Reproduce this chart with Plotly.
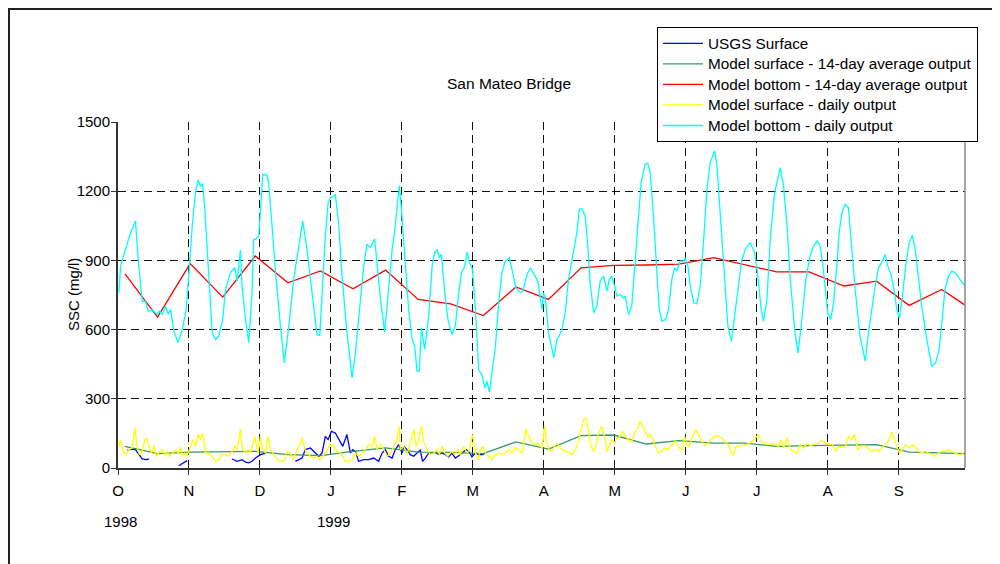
import plotly.graph_objects as go

# ---------------- data (day index from 1 Oct 1998, SSC in mg/l) ----------------
month_labels = ["O", "N", "D", "J", "F", "M", "A", "M", "J", "J", "A", "S"]
year_labels = ["1998", "1999"]
year_label_month = [0, 3]
series_names = ["USGS Surface",
                "Model surface - 14-day average output",
                "Model bottom - 14-day average output",
                "Model surface - daily output",
                "Model bottom - daily output"]

# USGS Surface (segments separated by None gaps)
usgs_day = [4.0, 6.1, 7.5, 8.9, 10.4, 12.1, 13.2, None,
            26.1, 28.3, 29.7, None,
            49, 51.2, 53.3, 54.8, 56.2, 57.6, 59.1, 61.2, 63.4, None,
            76.2, 79.1, 80.5, 82.7, 84.8, 86.3, 87.7, 89.1, 90.3, 91.7, 93.4, 94.9, 96.6, 98.4,
            99.9, 100.9, 102, 103.4, 105.6, 107.7, 109.9, 112, 113.5, 114.9, 116.3, 117.8, 119.2,
            120.6, 122.1, 122.8, 124.2, 125.6, 127.1, 128.5, 129.9, 130.9, 132.1, 133.5, 135,
            136.4, 137.8, 139.2, 140.7, 142.1, 143.5, 145, 146.4, 147.8, 149.6, 151, 152.1,
            153.6, 155, 156.7, 157.9]
usgs_val = [77, 82, 80, 58, 39, 36, 39, None,
            10, 22, 32, None,
            39, 29, 36, 25, 22, 29, 43, 58, 65, None,
            29, 43, 80, 87, 65, 51, 65, 137, 123, 159, 152, 123, 94, 145,
            65, 80, 72, 29, 36, 36, 43, 29, 65, 80, 51, 43, 80,
            101, 65, 94, 80, 58, 51, 65, 77, 29, 43, 65, 65,
            68, 58, 65, 58, 48, 65, 43, 53, 65, 80, 68, 48,
            65, 58, 58, 65]

# Model 14-day averages
avg_day = [3, 17, 31, 45, 59, 73, 87, 101, 115, 129, 143, 157, 171, 185, 199, 213,
           227, 241, 256, 269, 283, 297, 312, 326, 340, 354, 364]
surf_avg = [94, 62, 69, 69, 72, 58, 54, 72, 87, 69, 68, 62, 113, 82, 140, 143,
            104, 119, 108, 108, 94, 97, 100, 101, 69, 65, 62]
bot_avg = [842, 654, 886, 741, 919, 803, 854, 777, 858, 731, 712, 661, 785, 731, 868, 878,
           880, 884, 912, 883, 850, 850, 789, 810, 705, 774, 706]

# Model surface - daily output
surf_day = [0.4, 1.1, 2.5, 3.5, 4.7, 6.1, 7.2, 8.2, 9.2, 10.4, 11.5, 12.5, 13.2, 14.4, 15.4,
            16.4, 17.5, 19, 20.1, 21.1, 22.1, 23.3, 24.7, 26.1, 26.9, 27.6, 28.7, 29.7, 30.7,
            32.1, 33.3, 34.4, 35.4, 36.4, 37.6, 39, 40.5, 41.9, 43.3, 44.7, 46.2, 47.6, 49,
            50.2, 51.2, 52.6, 53.6, 54.8, 55.9, 56.9, 57.9, 58.8,
            60.2, 61.2, 62.2, 63.4, 64.5, 65.5, 66.9, 68.4, 69.8, 71.2, 72.7, 74.1, 75.1, 76.2,
            77.7, 79.1, 80.3, 81.3, 82.7, 84.1, 85.5, 87, 88.4, 89.8, 91.3, 92.7, 94.1, 95.6,
            96.6, 97.7, 99.2, 100.6, 102, 103.5, 104.9, 106.3, 107.7, 109.2, 110.3, 111.3,
            112.8, 114.2, 115.6, 117.1, 118.5, 119.9, 120.9,
            121.3, 122.8, 124.2, 125.6, 127.1, 128.1, 129.2, 130.4, 131.4, 132.8, 134.2, 135.7,
            137.1, 138.1, 139.2, 140.4, 141.8, 143.3, 144.7, 146.1, 147.1, 148.6, 150, 151,
            152.4, 153.6, 154.7, 155.7, 156.7, 157.9, 159.3, 160.7, 162.2, 163.6, 165, 166.5,
            167.9, 169.3, 170.7, 172.2, 173.6, 175.3, 176.5, 177.9, 179.3,
            180.4, 181.4, 182.4, 183.3, 184.3, 185.3, 186.5, 187.6, 188.6, 189.6, 190.8, 192.2,
            193.6, 195, 196.2, 197.2, 198.6, 200.1, 201.1, 202.2, 203.4, 204.4, 205.4, 206.5,
            208, 209.1, 210.1, 211.1, 212.2, 213.4, 214.4, 215.8, 216.8, 218, 219.4, 220.8,
            222, 223.4, 224.4, 225.4, 226.6, 227.7, 228.7, 229.7, 230.8, 232.3, 233.4, 234.9,
            236.6, 238, 239.4,
            241.2, 242.4, 243.5, 244.5, 245.5, 246.7, 248.1, 249.2, 250.7, 252.4, 253.8, 255.3,
            256.7, 258.1, 259.5, 261, 262.4, 263.5, 264.6, 265.6, 266.7, 268.1, 269.9, 271.7,
            273.6, 275, 276.4, 277.9, 279.3, 281, 282.5, 283.9, 285, 286, 287.5, 288.9, 290.3,
            291.8, 293.2, 294.6, 296.1, 297.5, 298.9, 300.4, 301.8,
            302.5, 303.9, 305.3, 307, 308.2, 309.6, 311.1, 312.5, 313.9, 315.1, 316.5, 317.9,
            319.4, 320.8, 322.2, 323.9, 325.4, 326.8, 328.2, 329.7, 331.1, 332.5, 333.7, 334.7,
            335.8, 337.1, 338.5, 340, 341.4, 342.6, 344, 345.4, 346.9, 348.3, 349.7, 351.1,
            352.6, 354, 355.4, 356.9, 358.3, 359.7, 361.2, 362.6, 363.6]
surf_val = [94, 123, 65, 58, 80, 87, 174, 94, 58, 72, 123, 130, 94, 65, 97,
            51, 65, 80, 58, 72, 51, 65, 77, 65, 91, 51, 65, 51, 82,
            123, 94, 145, 123, 152, 65, 65, 51, 29, 36, 58, 58, 51, 72,
            94, 80, 169, 80, 65, 80, 65, 101, 137,
            65, 137, 80, 65, 137, 80, 58, 36, 29, 29, 72, 65, 36, 58,
            94, 130, 80, 65, 51, 43, 51, 36, 58, 80, 101, 94, 72, 65,
            51, 29, 29, 36, 65, 51, 65, 80, 101, 94, 137, 80,
            101, 80, 51, 65, 94, 123, 181,
            80, 94, 58, 109, 166, 94, 123, 181, 109, 80, 58, 65,
            80, 58, 94, 65, 51, 72, 58, 80, 58, 94, 65, 80,
            145, 65, 36, 80, 94, 65, 51, 36, 58, 65, 58, 65,
            80, 65, 87, 80, 65, 169, 137, 109, 101,
            109, 94, 87, 184, 109, 80, 72, 94, 106, 94, 80, 72,
            68, 58, 72, 94, 152, 210, 217, 152, 94, 72, 94, 152,
            181, 137, 72, 94, 123, 109, 130, 137, 159, 137, 123, 116,
            152, 174, 203, 181, 159, 137, 145, 130, 94, 65, 72, 87,
            80, 101, 116,
            87, 80, 137, 101, 94, 130, 166, 152, 116, 97, 111, 130,
            140, 137, 130, 109, 101, 65, 58, 94, 94, 97, 101, 109,
            123, 145, 116, 109, 101, 106, 101, 94, 123, 87, 130, 80, 72,
            65, 101, 87, 106, 97, 101, 106, 116,
            119, 109, 101, 101, 72, 94, 94, 87, 137, 123, 145, 80,
            94, 97, 87, 72, 80, 72, 87, 101, 116, 155, 123, 101,
            65, 80, 101, 87, 101, 94, 72, 65, 72, 65, 58, 51,
            65, 72, 72, 80, 72, 65, 58, 58, 72]

# Model bottom - daily output
bot_day = [0.4, 1.1, 3.2, 5.4, 7.5, 8.7, 10.4, 11.8, 13, 14.7, 16.8, 17.8, 19, 20.4, 21.6,
           22.6, 24, 25.8, 27.6, 29.3, 30.4, 31.9, 33.3, 34.4, 35.4, 36.4, 37.3, 38.7, 40.5,
           41.9, 43.3, 45, 46.2, 48.3, 50.2, 51.2, 52.6, 53.3, 54.8, 56.2, 57.6, 58.3,
           59.1, 60.5, 61.2, 62.2, 64.1, 64.8, 66.2, 67.6, 69.8, 71.5, 73.4, 75.5, 77.7, 79.4,
           81.2, 83.4, 85.5, 86.7, 87.7, 89.1, 90.3, 91.3, 92.7, 93.4, 94.9, 96.3, 98.4, 100.6,
           102, 104.2, 105.6, 107, 108.5, 110.3, 111.3, 112.8, 114.6, 116, 117.8, 118.9,
           120.9, 121.8, 123.5, 124.9, 126.4, 127.5, 128.5, 129.5, 130.4, 131.8, 133.5, 135,
           136.1, 137.1, 138.1, 139, 140.4, 141.8, 143.5, 145, 146.4, 147.6, 149, 150, 151,
           152.4, 153.6, 155, 156.4, 157.6, 158.6, 159.6, 160.7, 162.2, 163.6, 165, 166.4,
           168.2, 169.3, 171, 172.9, 174, 175.8, 177.2, 179.3,
           180.4, 181.4, 182.2, 182.9, 183.9, 185, 186.2, 187.3, 188.6, 189.6, 190.8, 192.2,
           193.6, 195.3, 197.2, 198.2, 199.3, 200.8, 201.9, 202.9, 204.4, 205.8, 207.2, 208.7,
           210.1, 211.1, 212.2, 213.4, 214.4, 215.8, 217.2, 218, 219.4, 220.8, 222, 223.4,
           224.8, 226.5, 227.7, 228.7, 230.1, 231.6, 232.6, 233.7, 235.4, 236.6, 238, 239.2,
           240.1, 241.6,
           243.1, 243.8, 244.9, 245.9, 247.4, 248.8, 250.2, 251.7, 253.1, 254.5, 256.4, 257.4,
           258.8, 260.3, 262.1, 263.6, 265.3, 266.7, 268.1, 269.9, 271.7, 273.6, 275, 276.4,
           277.4, 278.9, 280.3, 282.2, 283.6, 284.6, 286, 287.5, 288.9, 290.8, 292.2, 293.6,
           295.6, 297.1, 298.5, 300.4, 301.4,
           301.7, 302.8, 303.9, 305, 306.3, 307.5, 308.9, 309.9, 311.1, 312.5, 313.9, 315.1,
           316.8, 318.9, 321.1, 322.5, 323.9, 325.4, 326.8, 328.2, 329.7, 330.8, 332.2, 333.7,
           334.7, 335.8, 337.1, 338.5, 340, 341.4, 342.6, 344, 345.4, 347.6, 349.7, 351.4,
           352.9, 354.3, 355.4, 356.9, 358.3, 359.7, 361.5, 362.9, 364]
bot_val = [760, 875, 948, 1020, 1071, 904, 723, 723, 680, 687, 666, 680, 666, 702, 666,
           687, 593, 543, 600, 687, 832, 1049, 1194, 1249, 1223, 1230, 1121, 904, 586,
           557, 572, 644, 774, 847, 868, 810, 945, 789, 644, 543, 760, 991,
           991, 1006, 1121, 1273, 1269, 1230, 1049, 861, 615, 456, 615, 818, 962, 1071,
           948, 760, 579, 575, 760, 1006, 1150, 1172, 1179, 1187, 1049, 832, 586, 391,
           499, 731, 875, 970, 955, 994, 875, 731, 589, 760, 948, 1027,
           1223, 1122, 904, 687, 557, 528, 420, 420, 608, 514, 658, 875,
           933, 948, 912, 926, 760, 644, 579, 615, 760, 847, 875, 936, 890,
           861, 687, 427, 405, 347, 376, 329, 412, 528, 716, 847, 897,
           912, 861, 781, 760, 767, 839, 868, 832,
           810, 745, 687, 760, 716, 586, 528, 478, 557, 572, 601, 673,
           818, 919, 1020, 1122, 1124, 1093, 962, 803, 673, 702, 810, 832,
           767, 818, 832, 789, 745, 752, 738, 745, 666, 702, 876, 1064,
           1237, 1317, 1321, 1281, 1093, 847, 687, 637, 644, 687, 818, 868,
           854, 897,
           897, 912, 876, 789, 716, 712, 789, 991, 1208, 1324, 1375, 1310,
           1093, 847, 615, 550, 680, 803, 904, 955, 977, 933, 832, 687,
           637, 731, 991, 1194, 1266, 1302, 1223, 1049, 818, 601, 499, 615,
           818, 904, 955, 984, 970,
           962, 890, 774, 673, 644, 716, 876, 1020, 1107, 1143, 1129, 991,
           774, 572, 463, 586, 687, 789, 868, 890, 926, 875, 839, 760,
           687, 651, 745, 876, 977, 1009, 948, 818, 702, 557, 441, 456,
           514, 658, 774, 832, 854, 847, 825, 803, 789]

# ---------------- figure ----------------
FONT = "Liberation Sans, Arial, sans-serif"
DAYS_PER_MONTH = 30.5
month_pos = [i * DAYS_PER_MONTH for i in range(len(month_labels))]


def legend_name(s):
    # legend rows are spaced by the 13.5px legend font; the text itself is drawn larger
    return '<span style="font-size:15.3px">' + s + "</span>"


series = [
    (usgs_day, usgs_val, series_names[0], "#0000FF"),
    (avg_day, surf_avg, series_names[1], "#339966"),
    (avg_day, bot_avg, series_names[2], "#FF0000"),
    (surf_day, surf_val, series_names[3], "#FFFF00"),
    (bot_day, bot_val, series_names[4], "#00FFFF"),
]

fig = go.Figure()
for xs, ys, nm, col in series:
    fig.add_trace(go.Scatter(x=xs, y=ys, mode="lines", name=legend_name(nm),
                             line=dict(color=col, width=1.3), connectgaps=False))

ML, MT = 110, 114
PW, PH = 847, 346

fig.update_layout(
    width=1000, height=564,
    margin=dict(l=ML, r=1000 - ML - PW, t=MT, b=564 - MT - PH, autoexpand=False),
    paper_bgcolor="white", plot_bgcolor="white",
    font=dict(family=FONT, size=15, color="black"),
    showlegend=True,
    legend=dict(x=(649 - ML) / PW, y=(MT + PH - 19) / PH, xanchor="left", yanchor="top",
                bgcolor="white", bordercolor="black", borderwidth=1,
                font=dict(family=FONT, size=13.5, color="black"),
                tracegroupgap=0, itemwidth=40),
)

fig.update_xaxes(
    range=[0, 364], tickmode="array", tickvals=month_pos, ticktext=month_labels,
    showgrid=True, gridcolor="#111111", gridwidth=1, griddash="8px,5px",
    showline=True, linecolor="#333333", linewidth=2,
    ticks="outside", ticklen=5, tickcolor="#333333", tickwidth=1,
    zeroline=False, ticklabelstandoff=3,
    tickfont=dict(family=FONT, size=15, color="black"),
)
fig.update_yaxes(
    range=[0, 1500], tick0=0, dtick=300,
    showgrid=True, gridcolor="#111111", gridwidth=1, griddash="8px,5px",
    showline=True, linecolor="#333333", linewidth=2,
    ticks="outside", ticklen=5, tickcolor="#333333", tickwidth=1,
    zeroline=False, ticklabelstandoff=-2,
    tickfont=dict(family=FONT, size=15, color="black"),
)

# right border of plot area
fig.add_shape(type="line", xref="paper", yref="paper", x0=1, x1=1, y0=0, y1=1,
              line=dict(color="#888888", width=1.5))
# outer chart border (left and top visible)
fig.add_shape(type="rect", xref="paper", yref="paper",
              x0=(1 - ML) / PW, x1=1.3, y0=-0.6, y1=(MT + PH - 1) / PH,
              line=dict(color="#222222", width=2), layer="below")

# title and axis title
fig.add_annotation(text="San Mateo Bridge", xref="paper", yref="paper",
                   x=(509 - 118) / PW, y=(468 - 83) / PH, showarrow=False,
                   xanchor="center", yanchor="middle",
                   font=dict(family=FONT, size=15.5, color="black"))
fig.add_annotation(text="SSC (mg/l)", xref="paper", yref="paper",
                   x=(73 - 118) / PW, y=0.5, showarrow=False, textangle=-90,
                   xanchor="center", yanchor="middle",
                   font=dict(family=FONT, size=15, color="black"))
# year labels under the month axis
for lab, m in zip(year_labels, year_label_month):
    fig.add_annotation(text=lab, xref="x", yref="paper", x=month_pos[m] + 1,
                       y=(468 - 521) / PH, showarrow=False,
                       xanchor="center", yanchor="middle",
                       font=dict(family=FONT, size=15, color="black"))

fig.write_html("out.html")
